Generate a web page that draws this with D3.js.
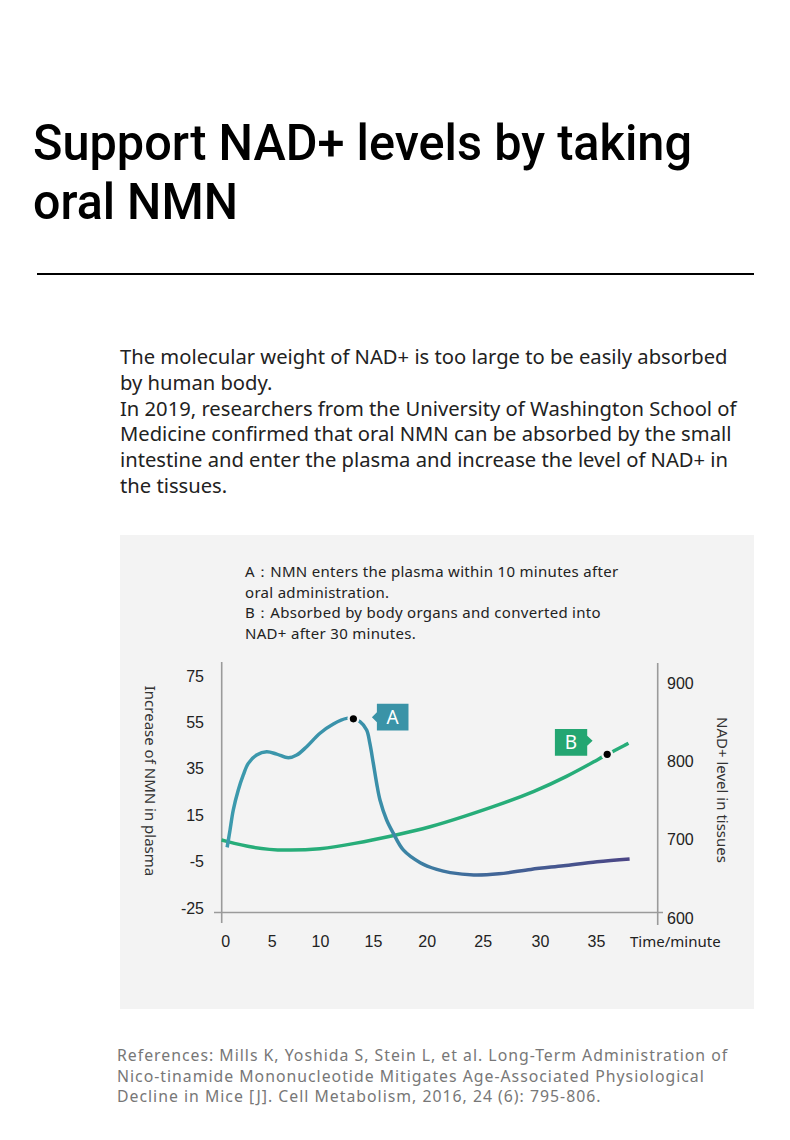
<!DOCTYPE html>
<meta charset="utf-8">
<body style="margin:0;background:#fff">
<style>
text { font-family: "Noto Sans", sans-serif; }
.tick text { font-family: "Liberation Sans", Arial, sans-serif; font-size: 16px; fill: #222; }
</style>
<script src="https://d3js.org/d3.v7.min.js"></script>
<script>

var titleLines = ["Support NAD+ levels by taking", "oral NMN"];
var bodyLines = [
  "The molecular weight of NAD+ is too large to be easily absorbed",
  "by human body.",
  "In 2019, researchers from the University of Washington School of",
  "Medicine confirmed that oral NMN can be absorbed by the small",
  "intestine and enter the plasma and increase the level of NAD+ in",
  "the tissues."
];
var noteLines = [
  "A：NMN enters the plasma within 10 minutes after",
  "oral administration.",
  "B：Absorbed by body organs and converted into",
  "NAD+ after 30 minutes."
];
var refLines = [
  "References: Mills K, Yoshida S, Stein L, et al. Long-Term Administration of",
  "Nico-tinamide Mononucleotide Mitigates Age-Associated Physiological",
  "Decline in Mice [J]. Cell Metabolism, 2016, 24 (6): 795-806."
];

// x ticks (minutes) and y ticks
var xTicks = [0, 5, 10, 15, 20, 25, 30, 35];
var leftTicks = [75, 55, 35, 15, -5, -25];
var rightTicks = [900, 800, 700, 600];

// NMN increase in plasma (left axis)
var nmnTime  = [0.2, 0.51, 0.86, 1.4, 1.94, 2.48, 3.38, 4.46, 5.52, 6.72, 7.59, 8.62, 10, 11.26, 12.52, 13.15, 13.77, 14.4, 14.7, 15.03, 15.34, 15.65, 16.27, 16.89, 17.82, 19.4, 20.9, 22.1, 24.2, 26.4, 29.2, 32.1, 35.1, 38];
var nmnValue = [2.0, 9.5, 18.1, 26.7, 33.2, 38.2, 41.8, 43.2, 42.2, 40.6, 41.8, 45.4, 51.2, 55.2, 57.6, 57.4, 56.2, 52.6, 46.9, 38.2, 29.6, 22.4, 13.8, 8.1, 0.9, -4.6, -7.5, -8.9, -9.9, -9.4, -7.5, -5.9, -4.2, -3.0];

// NAD+ level in tissues (right axis)
var nadTime  = [-0.4, 3.0, 6.5, 10, 13.1, 17.2, 20.3, 23.3, 26.5, 29.5, 32.4, 35.1, 36.0, 37.9];
var nadValue = [699.6, 689.0, 685.9, 687.7, 694.5, 706.0, 715.8, 729.3, 744.8, 761.2, 780.4, 801.7, 809.0, 823.0];

var markA = {t: 13.15, v: 57.4, label: "A"};
var markB = {t: 36.0, v: 809.0, label: "B"};

var svg = d3.select("body").append("svg")
    .attr("width", 790)
    .attr("height", 1140);

svg.append("rect").attr("width", 790).attr("height", 1140).attr("fill", "#fff");

// title
svg.append("g").selectAll("text")
    .data(titleLines)
  .enter().append("text")
    .attr("x", 33)
    .attr("y", function(d, i) { return 160 + i * 59; })
    .attr("textLength", function(d, i) { return i == 0 ? 659 : 205; })
    .attr("lengthAdjust", "spacingAndGlyphs")
    .style("font-family", "Roboto, sans-serif")
    .style("font-weight", 500)
    .style("font-size", "50px")
    .style("fill", "#000")
    .text(function(d) { return d; });

svg.append("line")
    .attr("x1", 37).attr("x2", 754)
    .attr("y1", 274).attr("y2", 274)
    .attr("stroke", "#000").attr("stroke-width", 2);

svg.append("g").selectAll("text")
    .data(bodyLines)
  .enter().append("text")
    .attr("x", 120)
    .attr("y", function(d, i) { return 364 + i * 25.8; })
    .style("font-size", "20.2px")
    .style("fill", "#222")
    .text(function(d) { return d; });

// grey panel
svg.append("rect")
    .attr("x", 120).attr("y", 535)
    .attr("width", 634).attr("height", 474)
    .attr("fill", "#f3f3f3");

svg.append("g").selectAll("text")
    .data(noteLines)
  .enter().append("text")
    .attr("x", 245)
    .attr("y", function(d, i) { return 577 + i * 20.5; })
    .style("font-size", "15px")
    .style("letter-spacing", "0.3px")
    .style("fill", "#222")
    .text(function(d) { return d; });

// scales
var x = d3.scaleLinear()
    .domain(xTicks)
    .range([225.3, 271.7, 320, 373, 426.7, 482.7, 540, 596]);

var yL = d3.scaleLinear().domain([-25, 75]).range([910, 678]);
var yR = d3.scaleLinear().domain([600, 900]).range([918, 683]);

// axis lines
var axisColor = "#9a9a9a";
svg.append("line").attr("x1", 221.7).attr("x2", 221.7).attr("y1", 662).attr("y2", 923)
    .attr("stroke", axisColor).attr("stroke-width", 1.6);
svg.append("line").attr("x1", 657.7).attr("x2", 657.7).attr("y1", 663).attr("y2", 925)
    .attr("stroke", axisColor).attr("stroke-width", 1.6);
svg.append("line").attr("x1", 214).attr("x2", 663).attr("y1", 912.5).attr("y2", 912.5)
    .attr("stroke", axisColor).attr("stroke-width", 1.6);

var gx = svg.append("g")
    .attr("transform", "translate(0,941)")
    .call(d3.axisBottom(x).tickValues(xTicks).tickSize(0).tickPadding(0).tickFormat(String));
gx.selectAll(".tick text").attr("dy", "0.35em");

var gl = svg.append("g")
    .attr("transform", "translate(204,-2)")
    .call(d3.axisLeft(yL).tickValues(leftTicks).tickSize(0).tickPadding(0).tickFormat(String));

var gr = svg.append("g")
    .attr("transform", "translate(667,0)")
    .call(d3.axisRight(yR).tickValues(rightTicks).tickSize(0).tickPadding(0).tickFormat(String));

svg.selectAll(".domain").remove();

svg.append("text")
    .attr("x", 630).attr("y", 947)
    .style("font-size", "15px").style("fill", "#222")
    .text("Time/minute");

svg.append("text")
    .attr("transform", "translate(145,781) rotate(90)")
    .attr("text-anchor", "middle")
    .style("font-size", "15px").style("fill", "#333")
    .text("Increase of NMN in plasma");

svg.append("text")
    .attr("transform", "translate(717,790) rotate(90)")
    .attr("text-anchor", "middle")
    .style("font-size", "15px").style("fill", "#333")
    .text("NAD+ level in tissues");

// gradient for the NMN line
var defs = svg.append("defs");
var grad = defs.append("linearGradient")
    .attr("id", "nmnGrad")
    .attr("gradientUnits", "userSpaceOnUse")
    .attr("x1", x(0)).attr("x2", x(38)).attr("y1", 0).attr("y2", 0);
grad.append("stop").attr("offset", "0%").attr("stop-color", "#3c9aad");
grad.append("stop").attr("offset", "38%").attr("stop-color", "#3a8fa9");
grad.append("stop").attr("offset", "58%").attr("stop-color", "#3f6e9c");
grad.append("stop").attr("offset", "100%").attr("stop-color", "#4b4585");

var nmn = nmnTime.map(function(t, i) { return [t, nmnValue[i]]; });
var nad = nadTime.map(function(t, i) { return [t, nadValue[i]]; });

svg.append("path")
    .datum(nad)
    .attr("fill", "none")
    .attr("stroke", "#27ad79")
    .attr("stroke-width", 3.5)
    .attr("d", d3.line()
        .x(function(d) { return x(d[0]); })
        .y(function(d) { return yR(d[1]); })
        .curve(d3.curveBasis));

svg.append("path")
    .datum(nmn)
    .attr("fill", "none")
    .attr("stroke", "url(#nmnGrad)")
    .attr("stroke-width", 3.5)
    .attr("d", d3.line()
        .x(function(d) { return x(d[0]); })
        .y(function(d) { return yL(d[1]); })
        .curve(d3.curveCatmullRom.alpha(0.5)));

// markers
function marker(px, py) {
  svg.append("circle").attr("cx", px).attr("cy", py).attr("r", 6).attr("fill", "#f3f3f3");
  svg.append("circle").attr("cx", px).attr("cy", py).attr("r", 3.6).attr("fill", "#000");
}
marker(x(markA.t), yL(markA.v));
marker(x(markB.t), yR(markB.v));

// label A (pointer on the left)
var ax = x(markA.t) + 23.5, ay = yL(markA.v) - 15;
svg.append("path")
    .attr("d", "M" + ax + "," + ay + "h31.6v26.7h-31.6v-8.3l-5,-5l5,-5z")
    .attr("fill", "#3a93a7");
svg.append("text")
    .attr("x", ax + 15.8).attr("y", ay + 20.5)
    .attr("text-anchor", "middle")
    .style("font-size", "19px").style("fill", "#fff")
    .text(markA.label);

// label B (pointer on the right)
var bx = x(markB.t) - 52.3, by = yR(markB.v) - 25.3;
svg.append("path")
    .attr("d", "M" + bx + "," + by + "h32.3v6.7l5.4,5l-5.4,5v10h-32.3z")
    .attr("fill", "#24a672");
svg.append("text")
    .attr("x", bx + 16.1).attr("y", by + 20.5)
    .attr("text-anchor", "middle")
    .style("font-size", "19px").style("fill", "#fff")
    .text(markB.label);

// reference
svg.append("g").selectAll("text")
    .data(refLines)
  .enter().append("text")
    .attr("x", 117)
    .attr("y", function(d, i) { return 1061 + i * 20.7; })
    .style("font-size", "15.8px")
    .style("letter-spacing", "1px")
    .style("fill", "#777")
    .text(function(d) { return d; });

</script>
</body>
